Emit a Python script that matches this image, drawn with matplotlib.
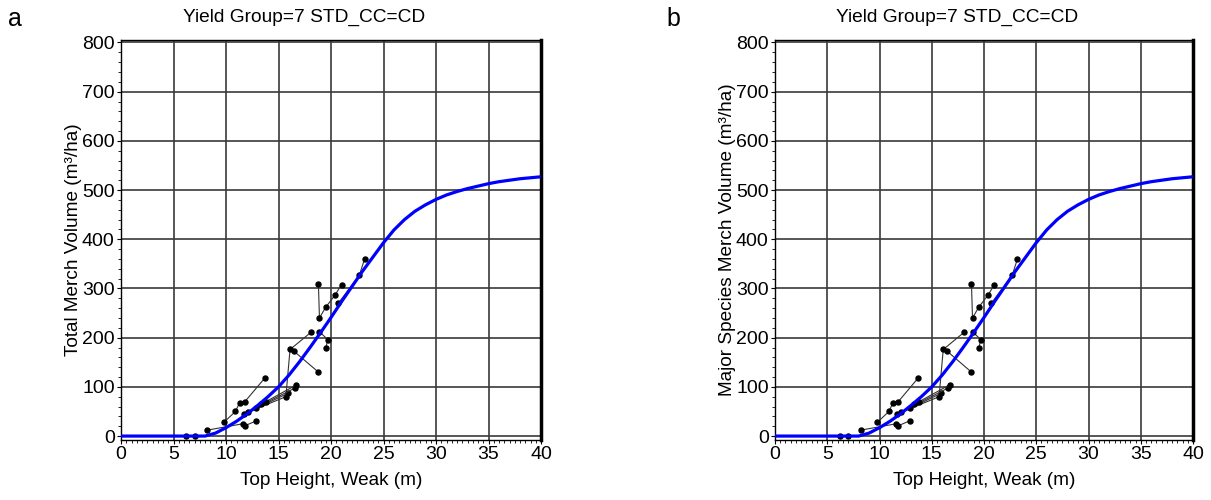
import matplotlib
matplotlib.use("Agg")
import matplotlib.pyplot as plt
from matplotlib.ticker import MultipleLocator

# ------------- DATA -------------
# fitted yield curve (blue)
curve_height = [0, 8, 9, 10, 11, 12, 13, 14, 15, 16, 17, 18, 19, 20, 21, 22, 23, 24,
                25, 26, 27, 28, 29, 30, 31, 32, 33, 34, 35, 36, 37, 38, 39, 40]
curve_volume = [0, 0, 6, 17, 30, 45, 62, 80, 100, 124, 151, 180, 210, 241, 273, 304, 335, 364,
                393, 419, 440, 457, 470, 481, 490, 497, 503, 508, 513, 517, 520, 523, 525, 527]

# plot remeasurements, one list per plot
plots_height = [
    [6.2, 7.0],
    [8.2, 11.6],
    [11.8, 12.9],
    [9.8, 10.9, 11.3, 11.8, 13.7],
    [11.7, 15.7, 16.1, 18.1],
    [12.1, 15.9],
    [12.9, 16.6],
    [13.3, 13.8, 16.7],
    [16.5, 18.8],
    [18.9, 19.7, 19.5],
    [18.8, 18.9, 19.5, 20.4, 21.0],
    [20.7, 22.7, 23.2],
]
plots_volume = [
    [0, 0],
    [12, 25],
    [21, 31],
    [28, 50, 68, 70, 118],
    [45, 80, 176, 211],
    [48, 87],
    [58, 98],
    [65, 70, 104],
    [172, 130],
    [212, 196, 179],
    [310, 240, 262, 287, 308],
    [270, 327, 360],
]

title = "Yield Group=7 STD_CC=CD"
xlabel = "Top Height, Weak (m)"
ylabels = ["Total Merch Volume (m\u00b3/ha)", "Major Species Merch Volume (m\u00b3/ha)"]
panel_letters = ["a", "b"]
# ----------------------------------

plt.rcParams["font.family"] = ["Liberation Sans", "DejaVu Sans"]

fig = plt.figure(figsize=(12.11, 5.0), dpi=100)
ax_a = fig.add_axes([121 / 1211, 0.12, 420 / 1211, 0.80])
ax_b = fig.add_axes([775 / 1211, 0.12, 418 / 1211, 0.80])

for ax, ylab in zip([ax_a, ax_b], ylabels):
    ax.set_xlim(0, 40)
    ax.set_ylim(-8, 805)
    ax.xaxis.set_major_locator(MultipleLocator(5))
    ax.xaxis.set_minor_locator(MultipleLocator(0.5))
    ax.yaxis.set_major_locator(MultipleLocator(100))
    ax.yaxis.set_minor_locator(MultipleLocator(20))
    ax.grid(True, which="major", color="#3a3a3a", linewidth=1.2)
    ax.set_axisbelow(True)

    # observed plots
    for xs, ys in zip(plots_height, plots_volume):
        ax.plot(xs, ys, color="#333333", linewidth=0.8, marker="o",
                markersize=3.6, markerfacecolor="black", markeredgecolor="black", zorder=3)

    # fitted curve
    ax.plot(curve_height, curve_volume, color="#0000ff", linewidth=2.3, zorder=4)

    ax.tick_params(which="major", direction="out", length=3, width=0.8,
                   labelsize=14, colors="black", pad=1.5)
    ax.tick_params(which="minor", direction="out", length=2, width=0.6)
    for side in ["left", "top", "bottom"]:
        ax.spines[side].set_linewidth(1.0)
    ax.spines["right"].set_linewidth(2.5)

    ax.set_xlabel(xlabel, fontsize=13.7, labelpad=6)
    ax.set_ylabel(ylab, fontsize=13.7, labelpad=0)
    ax.set_title(title, fontsize=13.8, x=0.435, pad=13)

fig.text(15 / 1211, 1 - 19 / 500, panel_letters[0], fontsize=18, ha="center", va="center")
fig.text(673 / 1211, 1 - 19 / 500, panel_letters[1], fontsize=18, ha="center", va="center")

fig.savefig("out.png", dpi=100)
